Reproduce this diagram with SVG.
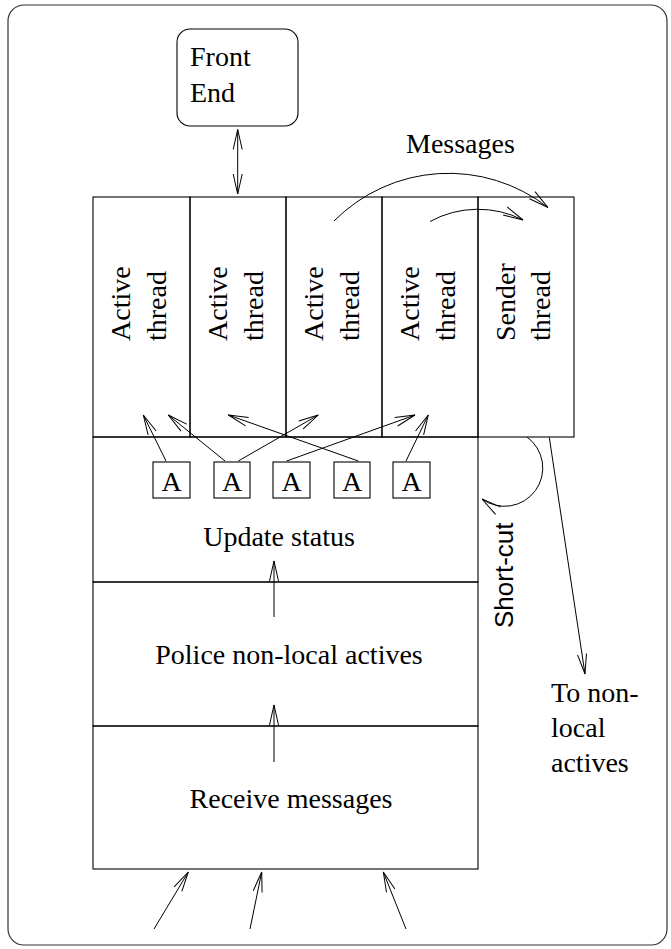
<svg xmlns="http://www.w3.org/2000/svg" width="671" height="949" viewBox="0 0 671 949">
  <style>
    .box { fill: none; stroke: #000; stroke-width: 1.1; }
    .frame { fill: none; stroke: #333; stroke-width: 1.2; }
    .arr { fill: none; stroke: #000; stroke-width: 1; marker-end: url(#ah); }
    .t { font-family: "Liberation Serif", "Times New Roman", serif; font-size: 28px; fill: #000; }
    .ts { font-family: "Liberation Sans", Arial, sans-serif; font-size: 26px; fill: #000; }
    .mid { text-anchor: middle; }
  </style>
  <defs>
    <!-- open V arrowhead, drawn in user units -->
    <marker id="ah" markerUnits="userSpaceOnUse" viewBox="-22 -7 24 14" markerWidth="24" markerHeight="14" refX="0" refY="0" orient="auto-start-reverse">
      <path d="M-20,-4.5 L0,0 L-20,4.5" fill="none" stroke="#000" stroke-width="1"/>
    </marker>
  </defs>

  <rect width="671" height="949" fill="#fff"/>

  <!-- page frame -->
  <rect x="8" y="5" width="659" height="940" rx="16" class="frame"/>

  <g id="front-end">
    <rect x="177" y="29" width="121" height="97" rx="13" class="box"/>
    <text class="t" x="190" y="66">Front</text>
    <text class="t" x="190" y="102">End</text>
  </g>

  <g id="messages-label">
    <text class="t" x="406" y="153">Messages</text>
  </g>

  <g id="thread-1">
    <rect x="93" y="197" width="97" height="240" class="box"/>
    <text class="t" transform="translate(130,341) rotate(-90)">Active</text>
    <text class="t" transform="translate(166,341) rotate(-90)">thread</text>
  </g>
  <g id="thread-2">
    <rect x="190" y="197" width="96" height="240" class="box"/>
    <text class="t" transform="translate(226.5,341) rotate(-90)">Active</text>
    <text class="t" transform="translate(262.5,341) rotate(-90)">thread</text>
  </g>
  <g id="thread-3">
    <rect x="286" y="197" width="96" height="240" class="box"/>
    <text class="t" transform="translate(322.5,341) rotate(-90)">Active</text>
    <text class="t" transform="translate(358.5,341) rotate(-90)">thread</text>
  </g>
  <g id="thread-4">
    <rect x="382" y="197" width="96" height="240" class="box"/>
    <text class="t" transform="translate(418.5,341) rotate(-90)">Active</text>
    <text class="t" transform="translate(454.5,341) rotate(-90)">thread</text>
  </g>
  <g id="sender-thread">
    <rect x="478" y="197" width="96" height="240" class="box"/>
    <text class="t" transform="translate(514.5,341) rotate(-90)">Sender</text>
    <text class="t" transform="translate(550,341) rotate(-90)">thread</text>
  </g>

  <g id="update-status">
    <rect x="93" y="437" width="385" height="145" class="box"/>
    <text class="t mid" x="279" y="546">Update status</text>
  </g>
  <g id="active-1">
    <rect x="153" y="462" width="37" height="36" class="box"/>
    <text class="t mid" x="171.5" y="491">A</text>
  </g>
  <g id="active-2">
    <rect x="214" y="462" width="36" height="36" class="box"/>
    <text class="t mid" x="232" y="491">A</text>
  </g>
  <g id="active-3">
    <rect x="273" y="462" width="37" height="36" class="box"/>
    <text class="t mid" x="291.5" y="491">A</text>
  </g>
  <g id="active-4">
    <rect x="334" y="462" width="36" height="36" class="box"/>
    <text class="t mid" x="352" y="491">A</text>
  </g>
  <g id="active-5">
    <rect x="393" y="462" width="37" height="36" class="box"/>
    <text class="t mid" x="411.5" y="491">A</text>
  </g>

  <g id="police">
    <rect x="93" y="582" width="385" height="144" class="box"/>
    <text class="t mid" x="289" y="664">Police non-local actives</text>
  </g>
  <g id="receive">
    <rect x="93" y="726" width="385" height="143" class="box"/>
    <text class="t mid" x="291" y="808">Receive messages</text>
  </g>

  <g id="side-labels">
    <text class="ts" transform="translate(513,628) rotate(-90)">Short-cut</text>
    <text class="t" x="551" y="702">To non-</text>
    <text class="t" x="551" y="737">local</text>
    <text class="t" x="551" y="772">actives</text>
  </g>

  <g id="connectors">
    <!-- front end to thread row -->
    <path class="arr" d="M237.7,129.5 L237.7,194" marker-start="url(#ah)"/>
    <!-- messages to sender thread -->
    <path class="arr" d="M334,221 A161.5,161.5 0 0 1 548,207.5"/>
    <path class="arr" d="M430,221.5 A100,100 0 0 1 523,220"/>
    <!-- actives to threads -->
    <path class="arr" d="M166,461 L143.3,415"/>
    <path class="arr" d="M225,461 L168.3,415"/>
    <path class="arr" d="M238.3,461 L318.3,415"/>
    <path class="arr" d="M286.7,461 L415,415"/>
    <path class="arr" d="M358.3,461 L228.3,415"/>
    <path class="arr" d="M406,461 L428.3,415"/>
    <!-- stage to stage -->
    <path class="arr" d="M274,617 L274,561"/>
    <path class="arr" d="M274,762 L274,705"/>
    <!-- incoming messages -->
    <path class="arr" d="M154,929 L188.3,872"/>
    <path class="arr" d="M250,929 L261.7,872"/>
    <path class="arr" d="M406,929 L383.3,872"/>
    <!-- short-cut loop and outgoing -->
    <path class="arr" d="M527,437 A38,38 0 0 1 482,499"/>
    <path class="arr" d="M549.3,437.5 L585,674"/>
  </g>
</svg>
